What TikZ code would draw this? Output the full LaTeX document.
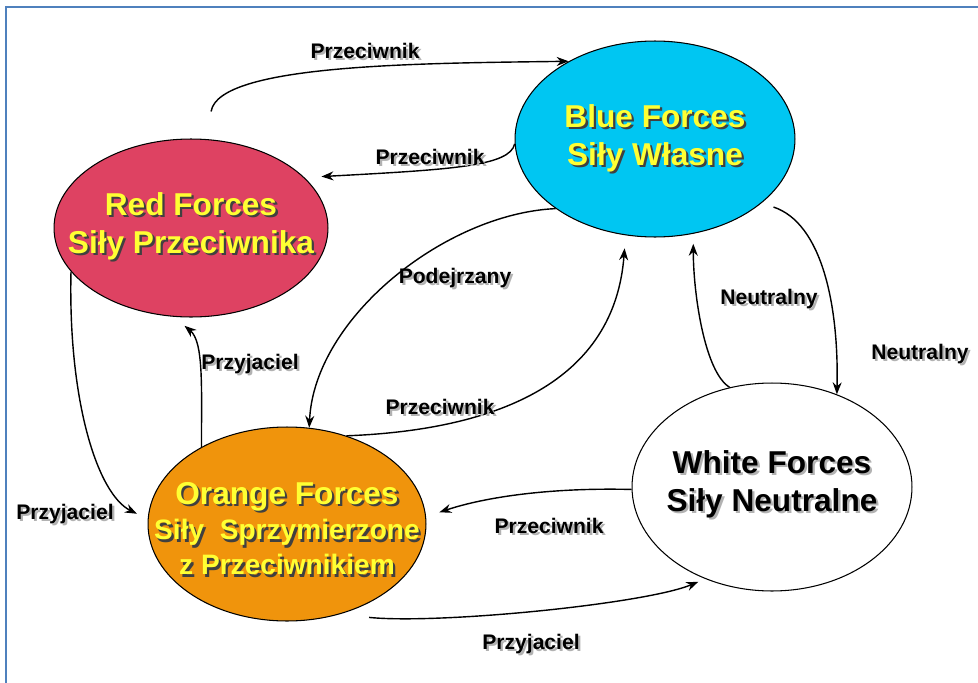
\documentclass[tikz,border=0pt]{standalone}
\usepackage{fontspec}
\setmainfont{Liberation Sans}
\usetikzlibrary{arrows.meta, shapes.geometric}
\definecolor{edgeCol}{HTML}{4F81BD}
\definecolor{redCol}{HTML}{DE4262}
\definecolor{blueCol}{HTML}{00C6F2}
\definecolor{orangeCol}{HTML}{F0940C}
\definecolor{txtCol}{HTML}{FFFF33}
% text with a small drop shadow
\newcommand{\shd}[2][black!75]{\makebox[0pt][l]{\hspace{1.3pt}\raisebox{-1.3pt}{\textcolor{#1}{#2}}}#2}

\begin{document}
\begin{tikzpicture}[
    x=0.02cm, y=-0.02cm,
    % Node styles
    force/.style={
        ellipse,
        draw=black,
        line width=0.6pt,
        fill=#1,
        inner sep=0pt
    },
    forcetext/.style={
        font=\bfseries\fontsize{18}{21.6}\selectfont,
        text=txtCol,
        align=center
    },
    lbl/.style={
        font=\bfseries\fontsize{12}{14}\selectfont
    },
    arrow/.style={
        -{Stealth[length=2.4mm, width=1.8mm]},
        line width=0.8pt
    },
    edgeline/.style={
        draw=edgeCol,
        line width=1.7pt
    }
]
    \useasboundingbox (0,0) rectangle (978,683);

    % ==== FRAME ====
    \draw[edgeline] (6,683) -- (6,7) -- (978,7);

    % ==== FORCES ====
    \node[force=redCol, minimum width=5.48cm, minimum height=3.56cm] (red) at (191,228) {};
    \node[force=blueCol, minimum width=5.6cm, minimum height=3.92cm] (blue) at (655,139) {};
    \node[force=orangeCol, minimum width=5.56cm, minimum height=3.88cm] (orange) at (287,524) {};
    \node[force=white, minimum width=5.6cm, minimum height=4.16cm] (white) at (772,487) {};

    \node[forcetext] (redtxt) at (191,227) {\shd{Red Forces}\\\shd{Siły Przeciwnika}};
    \node[forcetext] (bluetxt) at (655,139) {\shd{Blue Forces}\\\shd{Siły Własne}};
    \node[forcetext, font=\bfseries\fontsize{18}{20}\selectfont] (orangetxt) at (287,530)
        {\shd{Orange Forces}\\{\fontsize{16}{20}\selectfont\shd{Siły~ Sprzymierzone}}\\{\fontsize{16}{20}\selectfont\shd{z Przeciwnikiem}}};
    \node[forcetext, text=black] (whitetxt) at (772,485) {\shd[black!30]{White Forces}\\\shd[black!30]{Siły Neutralne}};

    % ==== CONNECTIONS ====
    % Red <-> Blue
    \draw[arrow, shorten <=0.56cm] (red.80) .. controls +(12,-75) and +(-150,2) .. (blue.138);
    \draw[arrow, shorten >=0.34cm] (blue.182) .. controls +(-5,22) and +(150,-8) .. (red.24);

    % Blue <-> Orange
    \draw[arrow] (blue.215) .. controls +(-110,5) and +(5,-110) .. (orange.77);
    \draw[arrow, shorten >=0.26cm] (orange.56) .. controls +(154,-6) and +(-11,145) .. (blue.253);

    % Red <-> Orange
    \draw[arrow, shorten >=0.28cm] (orange.138) .. controls +(0,-60) and +(30,25) .. (red.259);
    \draw[arrow, shorten >=0.24cm] (red.200) .. controls +(-3,130) and +(-50,-25) .. (orange.178);

    % Blue <-> White
    \draw[arrow, shorten >=0.2cm] (white.113) .. controls +(-25,-15) and +(0,60) .. (blue.292);
    \draw[arrow, shorten <=0.25cm] (blue.329) .. controls +(60,20) and +(2,-90) .. (white.55);

    % White <-> Orange
    \draw[arrow, shorten >=0.28cm] (white.181) .. controls +(-80,-2) and +(60,-20) .. (orange.3);
    \draw[arrow, shorten <=0.6cm, shorten >=0.15cm] (orange.300) .. controls +(100,10) and +(-60,25) .. (white.234);

    % ==== LABELS ====
    \node[lbl] (rbEnemy) at (365,52) {\shd[black!30]{Przeciwnik}};
    \node[lbl] (brEnemy) at (430,158) {\shd[black!30]{Przeciwnik}};
    \node[lbl] (boSuspect) at (455,279) {\shd[black!30]{Podejrzany}};
    \node[lbl] (orFriend) at (250,365) {\shd[black!30]{Przyjaciel}};
    \node[lbl] (obEnemy) at (440,408) {\shd[black!30]{Przeciwnik}};
    \node[lbl] (wbNeutral) at (769,300) {\shd[black!30]{Neutralny}};
    \node[lbl] (bwNeutral) at (920,355) {\shd[black!30]{Neutralny}};
    \node[lbl] (roFriend) at (65,515) {\shd[black!30]{Przyjaciel}};
    \node[lbl] (woEnemy) at (549,527) {\shd[black!30]{Przeciwnik}};
    \node[lbl] (owFriend) at (531,645) {\shd[black!30]{Przyjaciel}};

\end{tikzpicture}
\end{document}
